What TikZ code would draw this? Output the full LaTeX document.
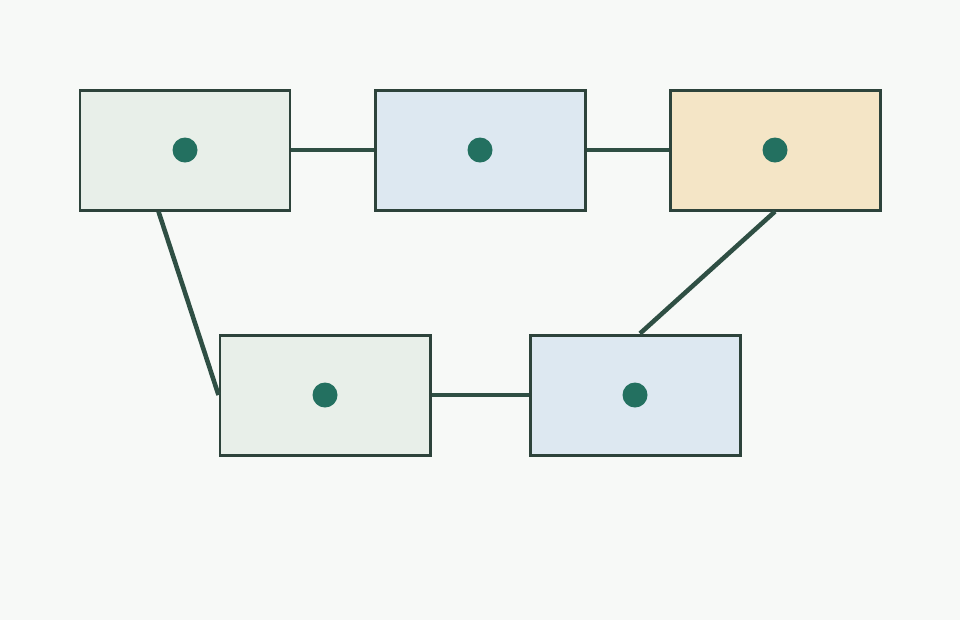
\documentclass[tikz,border=0pt]{standalone}
\usetikzlibrary{positioning}
\definecolor{bgcol}{HTML}{F7F9F7}
\definecolor{edgecol}{HTML}{2D433B}
\definecolor{linkcol}{HTML}{2F4F44}
\definecolor{dotcol}{HTML}{237060}
\definecolor{greenfill}{HTML}{E8EFE9}
\definecolor{bluefill}{HTML}{DDE8F1}
\definecolor{tanfill}{HTML}{F4E5C6}
\tikzset{
  box/.style={draw=edgecol,line width=1.7pt,minimum width=4.2cm,minimum height=2.4cm,inner sep=0pt},
  dot/.style={circle,fill=dotcol,minimum size=0.5cm,inner sep=0pt},
  link/.style={linkcol,line width=2.6pt}
}
\begin{document}
\begin{tikzpicture}
  % Background and bounding box
  \fill[bgcol] (0,0) rectangle (19.2,-12.4);
  \useasboundingbox (0,0) rectangle (19.2,-12.4);

  % Top row
  \node[box,fill=greenfill] (boxA) at (3.7,-3) {};
  \node[box,fill=bluefill] (boxB) at (9.6,-3) {};
  \node[box,fill=tanfill] (boxC) at (15.5,-3) {};

  % Bottom row
  \node[box,fill=greenfill] (boxD) at (6.5,-7.9) {};
  \node[box,fill=bluefill] (boxE) at (12.7,-7.9) {};

  % Dots
  \foreach \n in {A,B,C,D,E}
    \node[dot] (dot\n) at (box\n) {};

  % Links
  \draw[link] (boxA.east) -- (boxB.west);
  \draw[link] (boxB.east) -- (boxC.west);
  \draw[link] (boxD.east) -- (boxE.west);
  \draw[link] ([xshift=1.6cm]boxA.south west) -- (boxD.west);
  \draw[link] (boxC.south) -- ([xshift=0.1cm]boxE.north);
\end{tikzpicture}
\end{document}
